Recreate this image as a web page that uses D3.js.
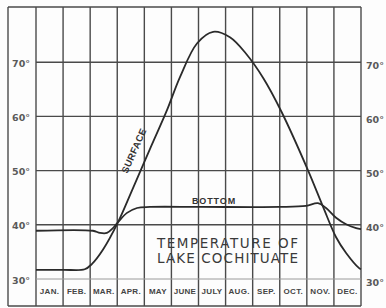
<!DOCTYPE html>
<html><head><meta charset="utf-8">
<script src="https://cdn.jsdelivr.net/npm/d3@7"></script>
<style>html,body{margin:0;padding:0;background:#fff;}svg{display:block;}</style>
</head><body>
<script>
const months = ["JAN.","FEB.","MAR.","APR.","MAY","JUNE","JULY","AUG.","SEP.","OCT.","NOV.","DEC."];
const tempTicks = [30,40,50,60,70];
// month position (0 = start of Jan, 12 = end of Dec) and temperature °F
const surfaceMonth = [0,1,1.8,2.07,2.47,3.03,3.55,4.21,4.84,5.32,5.95,6.54,7.16,7.75,8.4,9.05,10.04,10.6,11.08,11.45,11.93,12];
const surfaceTemp  = [31.7,31.7,31.8,32.8,35.4,40.5,46.4,54.0,61.2,67.3,73.5,75.6,74.6,71.6,67.0,61.0,50.1,43.3,37.7,34.8,32.0,31.8];
const bottomMonth = [0,2.1,2.36,2.62,2.84,3.03,3.36,3.73,4.21,6.06,9.0,9.97,10.41,10.71,11.08,11.45,11.82,12];
const bottomTemp  = [38.9,38.9,38.5,38.5,39.4,40.5,42.2,43.1,43.3,43.3,43.3,43.5,44.0,43.1,41.3,40.1,39.4,39.2];

const W = 386, H = 308;
const svg = d3.select("body").append("svg").attr("width", W).attr("height", H);
svg.append("rect").attr("width", W).attr("height", H).attr("fill", "#fdfdfd");

const x = d3.scaleLinear().domain([0, 12]).range([36, 361]);
const y = d3.scaleLinear().domain([30, 80]).range([279, 8]);
const frameTop = 7, frameBottom = 306, frameLeft = 8;
const gridColor = "#4a4a4a";

// frame
const g = svg.append("g");
g.append("line").attr("x1", frameLeft).attr("x2", x(12)).attr("y1", frameTop).attr("y2", frameTop)
  .attr("stroke", gridColor).attr("stroke-width", 1.4);
g.append("line").attr("x1", frameLeft).attr("x2", x(12)).attr("y1", frameBottom).attr("y2", frameBottom)
  .attr("stroke", gridColor).attr("stroke-width", 1.4);
g.append("line").attr("x1", frameLeft).attr("x2", frameLeft).attr("y1", frameTop).attr("y2", frameBottom)
  .attr("stroke", gridColor).attr("stroke-width", 1.4);

// vertical month lines
g.selectAll(".vl").data(d3.range(0, 13)).join("line")
  .attr("x1", d => x(d)).attr("x2", d => x(d))
  .attr("y1", frameTop).attr("y2", frameBottom)
  .attr("stroke", gridColor).attr("stroke-width", 1.4);

// horizontal temperature lines
g.selectAll(".hl").data(tempTicks).join("line")
  .attr("x1", x(0)).attr("x2", x(12))
  .attr("y1", d => y(d)).attr("y2", d => y(d))
  .attr("stroke", d => d === 30 ? "#9a9a9a" : gridColor).attr("stroke-width", d => d === 30 ? 1 : 1.4);

// axes labels
const fmt = d => d + "°";
const leftAxis = svg.append("g").attr("transform", "translate(32,1)")
  .call(d3.axisLeft(y).tickValues(tempTicks).tickSize(0).tickPadding(2).tickFormat(fmt));
const rightAxis = svg.append("g").attr("transform", "translate(364,3)")
  .call(d3.axisRight(y).tickValues(tempTicks).tickSize(0).tickPadding(2).tickFormat(fmt));
[leftAxis, rightAxis].forEach(a => {
  a.select(".domain").remove();
  a.selectAll("text").attr("font-family", "'DejaVu Sans', sans-serif").attr("font-size", 9.5)
    .attr("font-weight", "bold").attr("fill", "#5a5a5a");
});

// month labels via bottom axis
const monthAxis = svg.append("g").attr("transform", "translate(0,288)")
  .call(d3.axisBottom(d3.scaleBand().domain(months).range([x(0), x(12)])).tickSize(0).tickPadding(0));
monthAxis.select(".domain").remove();
monthAxis.selectAll("text").attr("font-family", "'Liberation Sans', Arial, sans-serif")
  .attr("font-size", 8).attr("font-weight", "bold").attr("fill", "#444").attr("letter-spacing", 0.3);

// curves
const line = d3.line().x(d => x(d[0])).y(d => y(d[1])).curve(d3.curveCatmullRom.alpha(0.5));
const surface = d3.zip(surfaceMonth, surfaceTemp);
const bottom = d3.zip(bottomMonth, bottomTemp);
svg.append("path").datum(bottom).attr("d", line).attr("fill", "none")
  .attr("stroke", "#2a2a2a").attr("stroke-width", 1.8);
svg.append("path").datum(surface).attr("d", line).attr("fill", "none")
  .attr("stroke", "#2a2a2a").attr("stroke-width", 1.8);

// labels
svg.append("text").attr("transform", "translate(137,152) rotate(-66)")
  .attr("text-anchor", "middle").attr("font-family", "'Liberation Sans', Arial, sans-serif")
  .attr("font-size", 9.5).attr("font-weight", "bold").attr("fill", "#333").attr("letter-spacing", 0.4)
  .text("SURFACE");
svg.append("text").attr("x", 214).attr("y", 204)
  .attr("text-anchor", "middle").attr("font-family", "'Liberation Sans', Arial, sans-serif")
  .attr("font-size", 9).attr("font-weight", "bold").attr("fill", "#333").attr("letter-spacing", 0.9)
  .text("BOTTOM");
const titleLines = ["TEMPERATURE OF", "LAKE COCHITUATE"];
svg.selectAll(".title").data(titleLines).join("text")
  .attr("x", 157).attr("y", (d, i) => 248 + i * 15)
  .attr("textLength", 141).attr("lengthAdjust", "spacing")
  .attr("font-family", "'DejaVu Sans', sans-serif").attr("font-size", 13.5)
  .attr("fill", "#3a3a3a")
  .text(d => d);
</script>
</body></html>
